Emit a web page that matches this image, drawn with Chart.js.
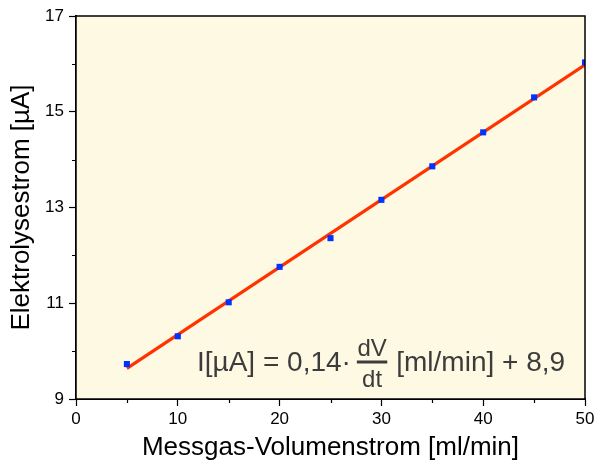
<!DOCTYPE html>
<html>
<head>
<meta charset="utf-8">
<script src="https://cdn.jsdelivr.net/npm/chart.js@4"></script>
<style>
  html, body { margin: 0; padding: 0; background: #fff; }
  #wrap { width: 594px; height: 463px; }
</style>
</head>
<body>
<div id="wrap"><canvas id="myChart" width="594" height="463"></canvas></div>
<script>
// measured points
var flowRates = [5, 10, 15, 20, 25, 30, 35, 40, 45, 50];
var currents = [9.73, 10.31, 11.02, 11.76, 12.36, 13.16, 13.86, 14.57, 15.30, 16.03];
// regression line end points
var fitX = [5, 50];
var fitY = [9.64, 15.98];
// axis ticks
var xTicks = [0, 10, 20, 30, 40, 50];
var xMinor = [5, 15, 25, 35, 45];
var yTicks = [9, 11, 13, 15, 17];
var yMinor = [10, 12, 14, 16];

var FONT = "'Liberation Sans', Arial, sans-serif";

function toPoints(xs, ys) {
  var pts = [];
  for (i = 0; i < xs.length; ++i) {
    pts.push({ x: xs[i], y: ys[i] });
  }
  return pts;
}

const framePlugin = {
  id: "frame",
  beforeDatasetsDraw(chart) {
    const a = chart.chartArea;
    const ctx = chart.ctx;
    ctx.save();
    ctx.fillStyle = "#fef9e3";
    ctx.fillRect(a.left, a.top, a.right - a.left, a.bottom - a.top);
    ctx.restore();
  },
  afterDraw(chart) {
    const a = chart.chartArea;
    const ctx = chart.ctx;
    const xs = chart.scales.x;
    const ys = chart.scales.y;
    ctx.save();
    ctx.strokeStyle = "#000";
    ctx.lineWidth = 1.5;
    ctx.strokeRect(a.left, a.top, a.right - a.left, a.bottom - a.top);
    // minor ticks
    ctx.lineWidth = 1.2;
    ctx.beginPath();
    xMinor.forEach((v) => {
      const px = Math.round(xs.getPixelForValue(v)) + 0.5;
      ctx.moveTo(px, a.bottom);
      ctx.lineTo(px, a.bottom + 4);
    });
    yMinor.forEach((v) => {
      const py = Math.round(ys.getPixelForValue(v)) + 0.5;
      ctx.moveTo(a.left, py);
      ctx.lineTo(a.left - 4, py);
    });
    ctx.stroke();

    // equation text
    ctx.fillStyle = "#3c3c3c";
    ctx.textBaseline = "alphabetic";
    ctx.textAlign = "left";
    ctx.font = "28px " + FONT;
    let x0 = a.left + 121;
    const base = 371;
    const part1 = "I[\u00b5A] = 0,14\u00b7";
    ctx.fillText(part1, x0, base);
    x0 += ctx.measureText(part1).width + 6;
    ctx.font = "24px " + FONT;
    const wdv = ctx.measureText("dV").width;
    const wdt = ctx.measureText("dt").width;
    const wbar = Math.max(wdv, wdt) + 1;
    ctx.fillText("dV", x0 + (wbar - wdv) / 2, 356);
    ctx.fillText("dt", x0 + (wbar - wdt) / 2, 387);
    ctx.fillRect(x0, 360.5, wbar, 3);
    x0 += wbar + 9;
    ctx.font = "28px " + FONT;
    ctx.fillText("[ml/min] + 8,9", x0, base);
    ctx.restore();
  },
};

const ctx = document.getElementById("myChart");

new Chart(ctx, {
  type: "scatter",
  data: {
    datasets: [
      {
        label: "Messwerte",
        data: toPoints(flowRates, currents),
        pointStyle: "rect",
        pointRadius: 4.3,
        backgroundColor: "#0033ff",
        borderColor: "#0033ff",
        borderWidth: 0,
        showLine: false,
        order: 0,
      },
      {
        label: "Regression",
        data: toPoints(fitX, fitY),
        showLine: true,
        borderColor: "#ff3300",
        borderWidth: 3.2,
        pointRadius: 0,
        order: 1,
      },
    ],
  },
  plugins: [framePlugin],
  options: {
    responsive: false,
    animation: false,
    events: [],
    layout: { padding: { top: 16, right: 9, left: 0, bottom: 0 } },
    plugins: {
      legend: { display: false },
      tooltip: { enabled: false },
    },
    scales: {
      x: {
        type: "linear",
        min: 0,
        max: 50,
        afterBuildTicks: (scale) => {
          scale.ticks = xTicks.map((v) => ({ value: v }));
        },
        afterFit: (scale) => {
          scale.height = 64;
          scale.paddingLeft = 0;
          scale.paddingRight = 0;
        },
        ticks: {
          color: "#000",
          font: { family: FONT, size: 17 },
          padding: 3,
          maxRotation: 0,
        },
        grid: {
          drawOnChartArea: false,
          drawTicks: true,
          tickLength: 7,
          tickColor: "#000",
          tickWidth: 1.2,
        },
        border: { display: true, color: "#000", width: 2 },
        title: {
          display: true,
          text: "Messgas-Volumenstrom [ml/min]",
          color: "#000",
          font: { family: FONT, size: 26 },
          padding: { top: 0, bottom: 0 },
        },
      },
      y: {
        type: "linear",
        min: 9,
        max: 17,
        afterBuildTicks: (scale) => {
          scale.ticks = yTicks.map((v) => ({ value: v }));
        },
        afterFit: (scale) => {
          scale.width = 76;
          scale.paddingTop = 0;
          scale.paddingBottom = 0;
        },
        ticks: {
          color: "#000",
          font: { family: FONT, size: 17 },
          padding: 5,
        },
        grid: {
          drawOnChartArea: false,
          drawTicks: true,
          tickLength: 7,
          tickColor: "#000",
          tickWidth: 1.2,
        },
        border: { display: true, color: "#000", width: 2 },
        title: {
          display: true,
          text: "Elektrolysestrom [\u00b5A]",
          color: "#000",
          font: { family: FONT, size: 26 },
          padding: { top: 6, bottom: 0 },
        },
      },
    },
  },
});
</script>
</body>
</html>
